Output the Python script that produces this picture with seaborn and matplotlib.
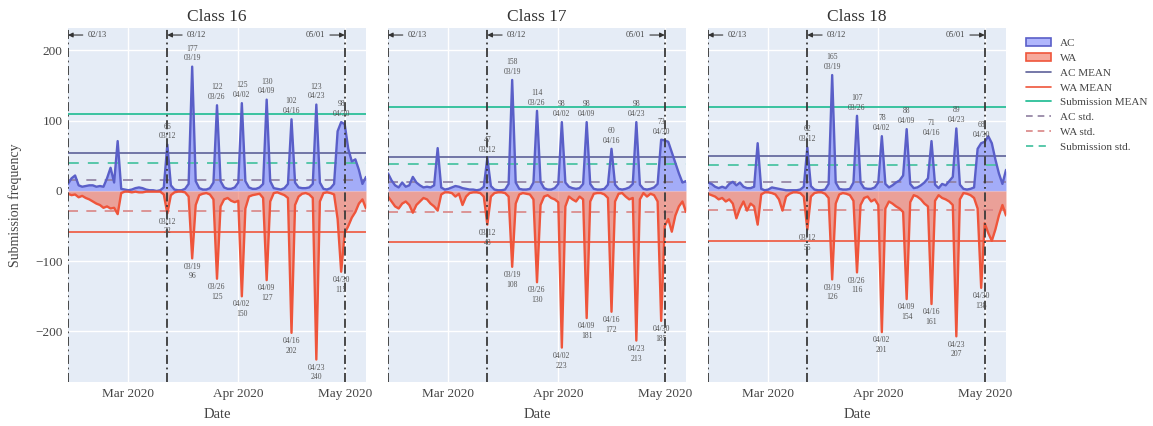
import numpy as np
import pandas as pd
import matplotlib
matplotlib.use("Agg")
import matplotlib.pyplot as plt
import matplotlib.dates as mdates
from matplotlib.patches import Patch
from matplotlib.lines import Line2D
import seaborn as sns

# ---------------- data ----------------
dates = pd.date_range("2020-02-13", "2020-05-07", freq="D")
classes = ["Class 16", "Class 17", "Class 18"]

ac16 = [10, 18, 22, 8, 6, 7, 8,
        8, 6, 7, 6, 18, 33, 12,
        71, 3, 2, 1, 2, 4, 5,
        4, 2, 1, 1, 0, 1, 5,
        66, 8, 2, 1, 1, 3, 10,
        177, 14, 4, 2, 2, 4, 12,
        122, 14, 5, 3, 3, 5, 12,
        125, 14, 5, 3, 3, 5, 10,
        130, 14, 4, 3, 2, 4, 10,
        102, 12, 5, 4, 4, 5, 10,
        123, 12, 3, 2, 4, 10, 85,
        98, 95, 60, 42, 45, 30, 10,
        20]
wa16 = [4, 6, 5, 9, 7, 10, 12,
        15, 18, 20, 24, 22, 25, 24,
        33, 3, 1, 1, 2, 1, 2,
        2, 1, 1, 1, 1, 1, 5,
        32, 6, 2, 1, 1, 2, 8,
        96, 20, 6, 4, 3, 5, 12,
        125, 22, 12, 10, 14, 16, 14,
        150, 25, 8, 6, 5, 4, 10,
        127, 15, 3, 2, 4, 6, 10,
        202, 20, 8, 4, 3, 5, 10,
        240, 15, 3, 2, 3, 5, 40,
        115, 60, 50, 38, 30, 18, 12,
        25]
ac17 = [25, 15, 8, 5, 12, 6, 8,
        20, 12, 8, 5, 6, 5, 8,
        61, 5, 2, 3, 5, 7, 6,
        4, 3, 2, 2, 1, 2, 6,
        47, 7, 2, 1, 1, 2, 10,
        158, 12, 3, 2, 2, 3, 12,
        114, 13, 4, 2, 2, 4, 10,
        98, 12, 6, 4, 3, 4, 10,
        98, 10, 3, 2, 2, 3, 9,
        60, 9, 3, 2, 3, 5, 10,
        98, 9, 3, 2, 3, 5, 10,
        73, 72, 70, 55, 40, 25, 12,
        14]
wa17 = [8, 15, 22, 25, 18, 15, 20,
        31, 20, 15, 10, 12, 18, 22,
        28, 5, 2, 2, 3, 8, 4,
        20, 8, 3, 2, 2, 3, 8,
        48, 8, 3, 2, 2, 3, 8,
        108, 18, 5, 3, 4, 5, 12,
        130, 20, 8, 6, 10, 12, 16,
        223, 22, 8, 12, 15, 8, 12,
        181, 15, 4, 3, 3, 5, 10,
        172, 15, 4, 3, 8, 12, 10,
        213, 12, 3, 8, 4, 6, 15,
        185, 50, 40, 58, 35, 22, 15,
        30]
ac18 = [12, 10, 6, 4, 6, 4, 10,
        13, 8, 12, 6, 4, 4, 6,
        68, 3, 1, 2, 5, 4, 3,
        2, 1, 1, 1, 1, 2, 6,
        62, 7, 2, 1, 1, 2, 10,
        165, 12, 3, 2, 2, 3, 12,
        107, 12, 4, 3, 3, 5, 12,
        78, 10, 5, 8, 12, 15, 22,
        88, 10, 4, 5, 8, 12, 18,
        71, 9, 4, 10, 8, 14, 20,
        89, 9, 3, 2, 3, 5, 60,
        68, 70, 78, 68, 45, 25, 10,
        30]
wa18 = [4, 6, 8, 12, 10, 15, 12,
        18, 39, 25, 15, 28, 18, 22,
        48, 5, 2, 2, 3, 5, 12,
        28, 8, 4, 2, 2, 3, 8,
        55, 8, 3, 2, 2, 4, 10,
        126, 18, 5, 3, 4, 6, 14,
        116, 20, 10, 8, 15, 12, 20,
        201, 25, 15, 18, 22, 25, 30,
        154, 16, 6, 8, 12, 18, 22,
        161, 14, 6, 10, 12, 15, 20,
        207, 12, 3, 4, 6, 10, 25,
        138, 46, 60, 71, 55, 35, 20,
        35]

ac_series = [ac16, ac17, ac18]
wa_series = [wa16, wa17, wa18]

ac_mean = [54, 49, 50]
wa_mean = [58, 73, 71]
sub_mean = [110, 120, 119]
ac_std = [15, 13, 13]
wa_std = [29, 30, 27]
sub_std = [40, 39, 37]

peak_days = ["2020-03-12", "2020-03-19", "2020-03-26", "2020-04-02",
             "2020-04-09", "2020-04-16", "2020-04-23", "2020-04-30"]
marker_days = ["2020-02-13", "2020-03-12", "2020-05-01"]

# ---------------- style ----------------
sns.set_theme(style="darkgrid", rc={
    "axes.facecolor": "#E5ECF6",
    "grid.color": "white",
    "grid.linewidth": 1.0,
    "figure.facecolor": "white",
})
plt.rcParams["font.family"] = ["Liberation Serif", "DejaVu Serif"]

C_AC = "#636efa"
C_ACL = "#5a5fc8"
C_WA = "#EF553B"
C_ACMEAN = "#5d6199"
C_SUB = "#2bbf98"
C_ACSTD = "#8f7fa0"
C_WASTD = "#d98585"
C_SUBSTD = "#4cc4a4"
C_TXT = "#555555"

fig = plt.figure(figsize=(11.53, 4.26), dpi=100)
lefts = [68, 388, 708]
W, H = 1153, 426
axes = []
for i in range(3):
    ax = fig.add_axes([lefts[i] / W, 1 - 382 / H, 298 / W, (382 - 28) / H])
    axes.append(ax)

for i, ax in enumerate(axes):
    ac = np.array(ac_series[i], dtype=float)
    wa = -np.array(wa_series[i], dtype=float)
    df = pd.DataFrame({"date": dates, "AC": ac, "WA": wa})

    ax.fill_between(df["date"], 0, df["AC"], color=C_AC, alpha=0.5, lw=0, zorder=2)
    ax.fill_between(df["date"], 0, df["WA"], color=C_WA, alpha=0.5, lw=0, zorder=2)
    sns.lineplot(data=df, x="date", y="AC", ax=ax, color=C_ACL, lw=1.7, zorder=3)
    sns.lineplot(data=df, x="date", y="WA", ax=ax, color=C_WA, lw=1.7, zorder=3)

    ax.axhline(ac_mean[i], color=C_ACMEAN, lw=1.2, zorder=2.5)
    ax.axhline(-wa_mean[i], color=C_WA, lw=1.2, zorder=2.5)
    ax.axhline(sub_mean[i], color=C_SUB, lw=1.3, zorder=2.5)
    ax.axhline(ac_std[i], color=C_ACSTD, lw=1.2, ls=(0, (6, 5)), zorder=2.5)
    ax.axhline(-wa_std[i], color=C_WASTD, lw=1.2, ls=(0, (6, 5)), zorder=2.5)
    ax.axhline(sub_std[i], color=C_SUBSTD, lw=1.3, ls=(0, (6, 5)), zorder=2.5)

    for md in marker_days:
        ax.axvline(pd.Timestamp(md), color="#3a3a3a", lw=1.3, ls=(0, (5, 2, 1, 2)), zorder=4)

    # top arrow annotations
    arr = dict(arrowstyle="-|>", color="#333333", lw=0.8, mutation_scale=7,
               shrinkA=1, shrinkB=0)
    ax.annotate("02/13", xy=(pd.Timestamp("2020-02-13"), 222), xytext=(14, 0),
                textcoords="offset points", ha="left", va="center",
                fontsize=6, color="#444444", arrowprops=arr)
    ax.annotate("03/12", xy=(pd.Timestamp("2020-03-12"), 222), xytext=(14, 0),
                textcoords="offset points", ha="left", va="center",
                fontsize=6, color="#444444", arrowprops=arr)
    ax.annotate("05/01", xy=(pd.Timestamp("2020-05-01"), 222), xytext=(-14, 0),
                textcoords="offset points", ha="right", va="center",
                fontsize=6, color="#444444", arrowprops=arr)

    # peak labels
    for pdx in peak_days:
        ts = pd.Timestamp(pdx)
        k = int((ts - dates[0]).days)
        lab = ts.strftime("%m/%d")
        ax.annotate(f"{int(ac[k])}\n{lab}", xy=(ts, ac[k]), xytext=(0, 3),
                    textcoords="offset points", ha="center", va="bottom",
                    fontsize=5.5, color=C_TXT, linespacing=1.3, zorder=5)
        ax.annotate(f"{lab}\n{int(-wa[k])}", xy=(ts, wa[k]), xytext=(0, -3),
                    textcoords="offset points", ha="center", va="top",
                    fontsize=5.5, color=C_TXT, linespacing=1.3, zorder=5)

    ax.set_xlim(dates[0], dates[-1])
    ax.set_ylim(-272, 232)
    ax.set_yticks([-200, -100, 0, 100, 200])
    ax.xaxis.set_major_locator(mdates.MonthLocator(bymonth=[3, 4, 5]))
    ax.xaxis.set_major_formatter(mdates.DateFormatter("%b %Y"))
    ax.tick_params(axis="both", labelsize=9.5, colors="#444444", length=0, pad=4)
    for s in ax.spines.values():
        s.set_visible(False)
    ax.set_title(classes[i], fontsize=12.5, color="#333333", pad=5)
    ax.set_xlabel("Date", fontsize=10.5, color="#444444", labelpad=6)
    if i == 0:
        ax.set_ylabel("Submission frequency", fontsize=10, color="#444444", labelpad=9)
        ax.set_yticklabels(["\u2212200", "\u2212100", "0", "100", "200"])
    else:
        ax.set_ylabel("")
        ax.set_yticklabels([])

handles = [
    Patch(facecolor=(0.388, 0.431, 0.98, 0.5), edgecolor=C_ACL, lw=1.2),
    Patch(facecolor=(0.937, 0.333, 0.231, 0.5), edgecolor=C_WA, lw=1.2),
    Line2D([], [], color=C_ACMEAN, lw=1.2),
    Line2D([], [], color=C_WA, lw=1.2),
    Line2D([], [], color=C_SUB, lw=1.3),
    Line2D([], [], color=C_ACSTD, lw=1.2, ls=(0, (4, 3))),
    Line2D([], [], color=C_WASTD, lw=1.2, ls=(0, (4, 3))),
    Line2D([], [], color=C_SUBSTD, lw=1.3, ls=(0, (4, 3))),
]
labels = ["AC", "WA", "AC MEAN", "WA MEAN", "Submission MEAN",
          "AC std.", "WA std.", "Submission std."]
fig.legend(handles, labels, loc="upper left", bbox_to_anchor=(1022 / W, 1 - 34 / H),
           frameon=False, fontsize=8, labelcolor="#444444", handlelength=2.2,
           handleheight=0.7, labelspacing=0.45, borderaxespad=0)

fig.savefig("out.png", dpi=100)
